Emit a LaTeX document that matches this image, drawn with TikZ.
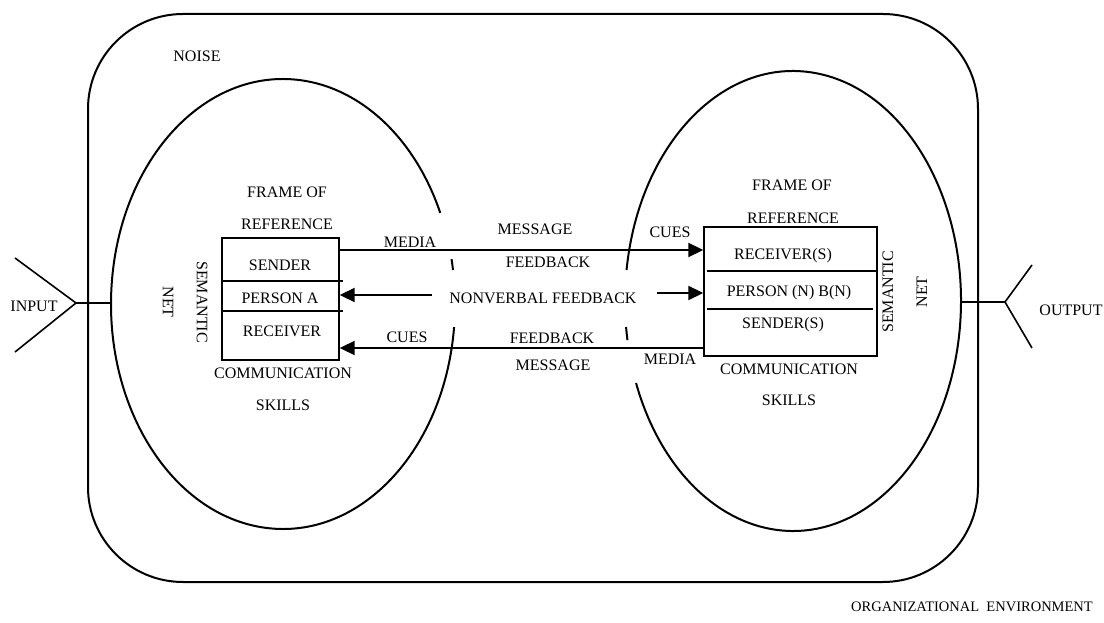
\documentclass[tikz,border=0pt]{standalone}
\usepackage{fontspec}
\setmainfont{Liberation Serif}
\usepackage{tikz}
\usetikzlibrary{calc,arrows.meta}

\begin{document}
\begin{tikzpicture}[x=1pt,y=-1pt,
	every node/.style={font=\fontsize{16}{19}\selectfont, inner sep=1pt},
	edge/.style={line width=2pt},
	arr/.style={line width=2pt, -{Triangle[length=15pt,width=14pt]}},
	part/.style={draw, line width=1.4pt, inner sep=0pt}]

	\useasboundingbox (0,0) rectangle (1104,623);

	% organizational environment
	\draw [edge, rounded corners=95] (88,14) rectangle (978,582);
	\node (noise) at (197,56) {NOISE};
	\node (org) [font=\fontsize{14.5}{17}\selectfont] at (972,607) {ORGANIZATIONAL\ \ ENVIRONMENT};

	% the two ellipses, broken where the labels sit
	\draw [edge] (283,304) ++(5.9:172 and 225) arc[start angle=5.9, end angle=336.1, x radius=172, y radius=225];
	\draw [edge] (283,304) ++(-11.5:172 and 225) arc[start angle=-11.5, end angle=-8.7, x radius=172, y radius=225];
	\draw [edge] (793,301) ++(187.75:168 and 230) arc[start angle=187.75, end angle=519.1, x radius=168, y radius=230];
	\draw [edge] (793,301) ++(170.2:168 and 230) arc[start angle=170.2, end angle=173.5, x radius=168, y radius=230];

	% person A
	\node (boxA) [part, minimum width=117, minimum height=122] at (280.5,299) {};
	\draw [line width=1.4pt] (222,281) -- (343,281);
	\draw [line width=1.4pt] (222,311) -- (343,311);
	\node (A1) at (287,192) {FRAME OF};
	\node (A2) at (287,224) {REFERENCE};
	\node (A3) at (280,265) {SENDER};
	\node (A4) at (280,298) {PERSON A};
	\node (A5) at (282,331) {RECEIVER};
	\node (A6) at (283,373) {COMMUNICATION};
	\node (A7) at (283,405) {SKILLS};
	\node (A8) [rotate=-90] at (202,302) {SEMANTIC};
	\node (A9) [rotate=-90] at (168,302) {NET};

	% person B
	\node (boxB) [part, minimum width=173, minimum height=129] at (790.5,291.5) {};
	\draw [line width=1.4pt] (707,271) -- (877,271);
	\draw [line width=1.4pt] (707,309) -- (873,309);
	\node (B1) at (792,185) {FRAME OF};
	\node (B2) at (793,218) {REFERENCE};
	\node (B3) at (783,256) {RECEIVER(S)};
	\node (B4) at (789,293) {PERSON (N) B(N)};
	\node (B5) at (783,325) {SENDER(S)};
	\node (B6) at (789,369) {COMMUNICATION};
	\node (B7) at (789,400) {SKILLS};
	\node (B8) [rotate=90] at (888,292) {SEMANTIC};
	\node (B9) [rotate=90] at (922,292) {NET};

	% messages between them
	\coordinate (top) at (0,250);
	\coordinate (bot) at (0,348);
	\coordinate (nvL) at (432,295);
	\coordinate (nvR) at (657,293);
	\draw [arr] (boxA.east |- top) -- (boxB.west |- top);
	\draw [arr] (nvL) -- (boxA.east |- nvL);
	\draw [arr] (nvR) -- (boxB.west |- nvR);
	\draw [arr] (boxB.west |- bot) -- (boxA.east |- bot);

	\node (M1) at (410,242) {MEDIA};
	\node (M2) at (535,229) {MESSAGE};
	\node (M3) at (670,232) {CUES};
	\node (M4) at (548,262) {FEEDBACK};
	\node (NV) at (543,298) {NONVERBAL FEEDBACK};
	\node (F1) at (407,337) {CUES};
	\node (F2) at (552,338) {FEEDBACK};
	\node (F3) at (553,365) {MESSAGE};
	\node (F4) at (670,359) {MEDIA};

	% input and output
	\node (in) at (34,306) {INPUT};
	\node (out) at (1071,310) {OUTPUT};
	\draw [line width=1.6pt] (15,258) -- (76,303) -- (15,352);
	\draw [line width=1.6pt] (76,303) -- (111,303);
	\draw [line width=1.6pt] (1032,265) -- (1005,302) -- (1032,348);
	\draw [line width=1.6pt] (1005,302) -- (961,302);

\end{tikzpicture}
\end{document}
